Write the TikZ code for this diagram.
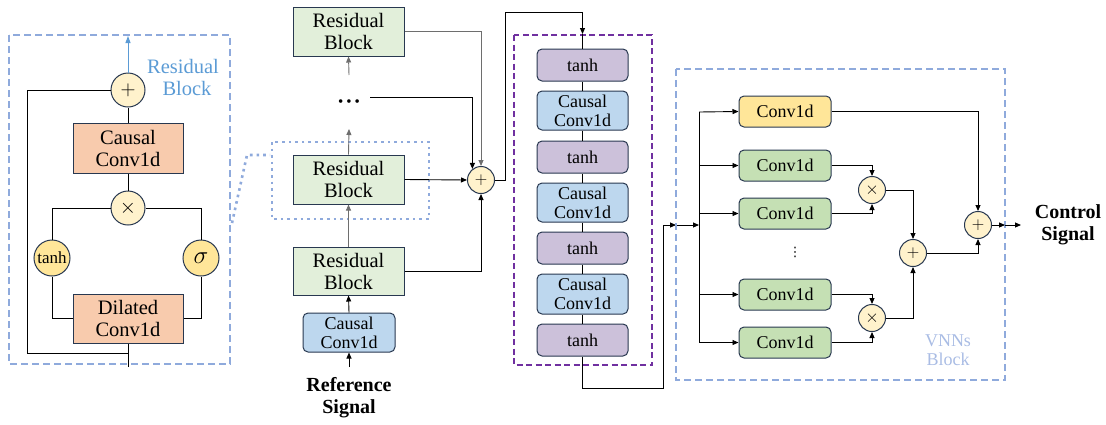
\documentclass[tikz,border=0pt]{standalone}
\usepackage{fontspec}
\setmainfont{Liberation Serif}
\newfontfamily\djv{DejaVu Sans}
\usetikzlibrary{arrows.meta}
\definecolor{bord}{RGB}{40,56,80}
\definecolor{peach}{RGB}{248,203,173}
\definecolor{lgreen}{RGB}{226,239,218}
\definecolor{mgreen}{RGB}{197,224,180}
\definecolor{lblue}{RGB}{189,215,238}
\definecolor{lpurp}{RGB}{204,193,218}
\definecolor{lyel}{RGB}{255,242,204}
\definecolor{myel}{RGB}{255,230,153}
\definecolor{dashblue}{RGB}{143,170,220}
\definecolor{txtblue}{RGB}{91,155,213}
\definecolor{vnnblue}{RGB}{169,188,228}
\definecolor{purp}{RGB}{112,48,160}
\definecolor{lgray}{RGB}{110,110,110}
\tikzset{
  big/.style={font=\fontsize{20.5}{22}\selectfont, align=center},
  small/.style={font=\fontsize{18}{19}\selectfont, align=center},
  sqbox/.style={draw=bord, line width=1pt, inner sep=0pt, big},
  rbox/.style={draw=bord, line width=1pt, inner sep=0pt, rounded corners=5pt, small},
  opc/.style={circle, draw=bord, line width=1pt, fill=lyel, inner sep=0pt, minimum size=27pt, font=\fontsize{18}{18}\selectfont},
  opcl/.style={circle, draw=bord, line width=1pt, fill=lyel, inner sep=0pt, minimum size=34pt, font=\fontsize{20}{20}\selectfont},
  actc/.style={circle, draw=bord, line width=1pt, fill=myel, inner sep=0pt, minimum size=36pt},
  conn/.style={line width=0.9pt, draw=black},
  arr/.style={conn, -{Triangle[length=6pt,width=5pt]}},
  garr/.style={line width=0.9pt, draw=lgray, -{Triangle[length=6pt,width=5pt]}},
  bluedash/.style={dashblue, line width=2.2pt, dash pattern=on 7pt off 4pt},
  bluedot/.style={dashblue, line width=2.6pt, dash pattern=on 2.6pt off 4pt},
}
\begin{document}
\begin{tikzpicture}[x=1pt,y=-1pt]
\useasboundingbox (0,0) rectangle (1106,424);

% ---------- left panel ----------
\draw[bluedash] (9,35) rectangle (230,364);
\node[opcl] (lplus) at (128,90) {$+$};
\node[sqbox, fill=peach, minimum width=110pt, minimum height=50pt] (lcc) at (128,148) {Causal\\Conv1d};
\node[opcl] (ltimes) at (128,208) {$\times$};
\node[actc, font=\fontsize{17}{17}\selectfont] (ltanh) at (52,258) {tanh};
\node[actc, font=\fontsize{26}{26}\selectfont] (lsig) at (201,258) {$\sigma$};
\node[sqbox, fill=peach, minimum width=110pt, minimum height=49pt] (ldil) at (128,318.5) {Dilated\\Conv1d};
\node[big, text=txtblue] (lrb) at (183,77) {Residual\\\hspace*{8pt}Block};
\coordinate (lin) at (128,367);
\coordinate (lsk) at (128,353);
\coordinate (lout) at (128,36);
\draw[conn] (lin) -- (ldil.south);
\draw[conn] (lsk) -| (27,90) -- (lplus.west);
\draw[conn] (ltimes.north) -- (lcc.south);
\draw[conn] (lcc.north) -- (lplus.south);
\draw[conn] (ltimes.west) -| (ltanh.north);
\draw[conn] (ltimes.east) -| (lsig.north);
\draw[conn] (ltanh.south) |- (ldil.west);
\draw[conn] (lsig.south) |- (ldil.east);
\draw[line width=1pt, draw=txtblue, -{Triangle[length=7pt,width=5pt]}] (lplus.north) -- (lout);

% dotted link
\draw[bluedot] (232,223) -- (247,155) -- (270,155);
\draw[bluedot] (272,142) rectangle (429,219);

% ---------- middle column ----------
\node[sqbox, fill=lgreen, minimum width=111pt, minimum height=49pt] (rb3) at (348.5,31.5) {Residual\\Block};
\node[sqbox, fill=lgreen, minimum width=111pt, minimum height=49pt] (rb2) at (348.5,179.5) {Residual\\Block};
\node[sqbox, fill=lgreen, minimum width=111pt, minimum height=48pt] (rb1) at (348.5,271) {Residual\\Block};
\node[rbox, fill=lblue, minimum width=92pt, minimum height=39pt] (ccin) at (349,332.5) {Causal\\Conv1d};
\node[font=\fontsize{20}{22}\selectfont\bfseries, align=center] (refs) at (349,398) {Reference\\Signal};
\node[font=\fontsize{15}{15}\selectfont, inner sep=0pt] (dts) at (349,103) {•\kern3pt•\kern3pt•};
\node[opc] (mp) at (481,180) {$+$};
\coordinate (min) at (349,367);
\coordinate (mtop) at (349,129);
\coordinate (mbot) at (349,75);
\coordinate (dl) at (370,97);
\draw[arr] (min) -- (ccin.south);
\draw[arr] (ccin.north) -- (rb1.south);
\draw[garr] (rb1.north) -- (rb2.south);
\draw[garr] (rb2.north) -- (mtop);
\draw[garr] (mbot) -- (rb3.south);
\draw[garr] (rb3.east) -| (mp.north);
\draw[arr] (dl) -| (mp.128);
\draw[arr] (rb2.east) -- (mp.west);
\draw[arr] (rb1.east) -| (mp.south);

% ---------- purple column ----------
\draw[purp, line width=2.2pt, dash pattern=on 6pt off 3.5pt] (514,35) rectangle (652,365);
\node[rbox, fill=lpurp, minimum width=91pt, minimum height=32pt] (t1) at (582.5,65) {tanh};
\node[rbox, fill=lblue, minimum width=91pt, minimum height=39pt] (c1) at (582.5,110.5) {Causal\\Conv1d};
\node[rbox, fill=lpurp, minimum width=91pt, minimum height=32pt] (t2) at (582.5,157) {tanh};
\node[rbox, fill=lblue, minimum width=91pt, minimum height=39pt] (c2) at (582.5,202.5) {Causal\\Conv1d};
\node[rbox, fill=lpurp, minimum width=91pt, minimum height=32pt] (t3) at (582.5,248) {tanh};
\node[rbox, fill=lblue, minimum width=91pt, minimum height=40pt] (c3) at (582.5,294) {Causal\\Conv1d};
\node[rbox, fill=lpurp, minimum width=91pt, minimum height=32pt] (t4) at (582.5,340) {tanh};
\coordinate (pin) at (582.5,34);
\draw[arr] (mp.east) -| (505,12) -| (pin);
\draw[conn] (pin) -- (t1.north);
\draw[conn] (t1.south) -- (c1.north);
\draw[conn] (c1.south) -- (t2.north);
\draw[conn] (t2.south) -- (c2.north);
\draw[conn] (c2.south) -- (t3.north);
\draw[conn] (t3.south) -- (c3.north);
\draw[conn] (c3.south) -- (t4.north);
\coordinate (vin) at (676,225);
\coordinate (bus) at (699,225);
\draw[arr] (t4.south) |- (663,388) |- (vin);
\draw[arr] (vin) -- (bus);

% ---------- VNNs block ----------
\draw[bluedash] (676,69) rectangle (1005,380);
\node[rbox, fill=myel, minimum width=92pt, minimum height=31pt] (y1) at (785,111.5) {Conv1d};
\node[rbox, fill=mgreen, minimum width=92pt, minimum height=31pt] (g1) at (785,165.5) {Conv1d};
\node[rbox, fill=mgreen, minimum width=92pt, minimum height=31pt] (g2) at (785,213.5) {Conv1d};
\node[rbox, fill=mgreen, minimum width=92pt, minimum height=31pt] (g3) at (785,294.5) {Conv1d};
\node[rbox, fill=mgreen, minimum width=92pt, minimum height=31pt] (g4) at (785,342.5) {Conv1d};
\node[font=\djv\fontsize{13}{13}\selectfont, inner sep=0pt] (vd) at (795,252) {⋮};
\node[opc] (x1) at (872,190) {$\times$};
\node[opc] (x2) at (872,318) {$\times$};
\node[opc] (pm) at (913,253) {$+$};
\node[opc] (pf) at (978,225) {$+$};
\node[small, text=vnnblue] (vnn) at (948,350) {VNNs\\Block};
\node[font=\fontsize{20}{22}\selectfont\bfseries, align=center] (ctl) at (1068,225) {Control\\Signal};
\draw[conn] (699,112) -- (699,342);
\draw[arr] (699,112) -- (y1.west);
\draw[arr] (699,165.5) -- (g1.west);
\draw[arr] (699,213.5) -- (g2.west);
\draw[arr] (699,294.5) -- (g3.west);
\draw[arr] (699,342.5) -- (g4.west);
\draw[arr] (y1.east) -| (pf.north);
\draw[arr] (g1.east) -| (x1.north);
\draw[arr] (g2.east) -| (x1.south);
\draw[arr] (g3.east) -| (x2.north);
\draw[arr] (g4.east) -| (x2.south);
\draw[arr] (x1.east) -| (pm.north);
\draw[arr] (x2.east) -| (pm.south);
\draw[arr] (pm.east) -| (pf.south);
\coordinate (vout) at (1005,225);
\coordinate (vend) at (1021,225);
\draw[arr] (pf.east) -- (vout);
\draw[arr] (vout) -- (vend);
\end{tikzpicture}
\end{document}
